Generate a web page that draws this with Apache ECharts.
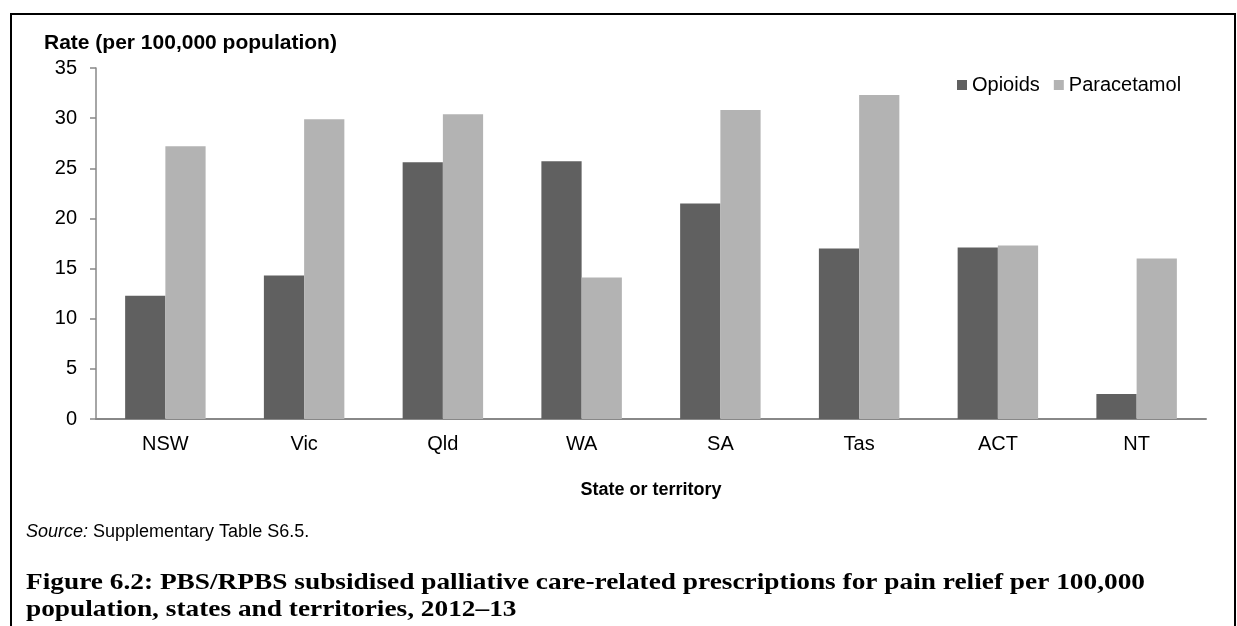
<!DOCTYPE html>
<html>
<head>
<meta charset="utf-8">
<title>Palliative care-related prescriptions for pain relief</title>
<script src="https://cdn.jsdelivr.net/npm/echarts@6/dist/echarts.min.js"></script>
<style>
  html, body { margin: 0; padding: 0; background: #ffffff; }
  #chart { width: 1237px; height: 626px; }
</style>
</head>
<body>
<div id="chart"></div>
<script>
// States and territories along the category axis
const categories = ['NSW', 'Vic', 'Qld', 'WA', 'SA', 'Tas', 'ACT', 'NT'];
// Rate per 100,000 population, 2012–13
const opioids = [12.3, 14.3, 25.6, 25.7, 21.5, 17.0, 17.1, 2.5];
const paracetamol = [27.2, 29.9, 30.4, 14.1, 30.8, 32.3, 17.3, 16.0];
// Value axis range and step
const yMin = 0;
const yMax = 35;
const yStep = 5;

const captionLine1 = 'Figure 6.2: PBS/RPBS subsidised palliative care-related prescriptions for pain relief per 100,000';
const captionLine2 = 'population, states and territories, 2012–13';

const SANS = "'Liberation Sans', Arial, Helvetica, sans-serif";
const SERIF = "'Liberation Serif', 'Times New Roman', serif";
const AXIS_GREY = '#888888';

// caption set in a bold serif, widened so the first line spans the caption block
const CAPTION_WIDTH = 1119;
const CAPTION_SIZE = 23.5;
const captionFont = 'bold ' + CAPTION_SIZE + 'px ' + SERIF;
const measureCtx = document.createElement('canvas').getContext('2d');
measureCtx.font = captionFont;
const captionStretch = Math.min(1.3, CAPTION_WIDTH / measureCtx.measureText(captionLine1).width);

const chart = echarts.init(document.getElementById('chart'), null, { renderer: 'canvas' });

chart.setOption({
  animation: false,
  backgroundColor: '#ffffff',
  textStyle: { fontFamily: SANS, color: '#000000' },
  grid: { left: 96, right: 31, top: 68, bottom: 207, containLabel: false },
  legend: {
    data: ['Opioids', 'Paracetamol'],
    left: 957,
    top: 75,
    icon: 'rect',
    itemWidth: 10,
    itemHeight: 10,
    itemGap: 14,
    padding: 0,
    selectedMode: false,
    textStyle: { fontFamily: SANS, fontSize: 20, color: '#000000' }
  },
  xAxis: {
    type: 'category',
    data: categories,
    name: 'State or territory',
    nameLocation: 'middle',
    nameGap: 62,
    nameTextStyle: { fontFamily: SANS, fontSize: 18, fontWeight: 'bold', color: '#000000' },
    axisLine: { show: true, lineStyle: { color: AXIS_GREY, width: 2 } },
    axisTick: { show: false },
    axisLabel: { fontFamily: SANS, fontSize: 20, color: '#000000', margin: 15 },
    splitLine: { show: false }
  },
  yAxis: {
    type: 'value',
    min: yMin,
    max: yMax,
    interval: yStep,
    axisLine: { show: true, lineStyle: { color: AXIS_GREY, width: 1.5 } },
    axisTick: { show: true, inside: false, length: 6, lineStyle: { color: AXIS_GREY, width: 1.5 } },
    axisLabel: { fontFamily: SANS, fontSize: 20, color: '#000000', margin: 19 },
    splitLine: { show: false }
  },
  series: [
    {
      name: 'Opioids',
      type: 'bar',
      data: opioids,
      barGap: '0%',
      barCategoryGap: '42%',
      itemStyle: { color: '#606060' }
    },
    {
      name: 'Paracetamol',
      type: 'bar',
      data: paracetamol,
      barGap: '0%',
      barCategoryGap: '42%',
      itemStyle: { color: '#b3b3b3' }
    }
  ],
  graphic: [
    {
      // frame around the figure
      type: 'polyline',
      silent: true,
      shape: { points: [[11, 640], [11, 14], [1235, 14], [1235, 640]] },
      style: { stroke: '#000000', lineWidth: 2, fill: null }
    },
    {
      type: 'text',
      left: 44,
      top: 33,
      silent: true,
      style: {
        text: 'Rate (per 100,000 population)',
        font: 'bold 21px ' + SANS,
        fill: '#000000'
      }
    },
    {
      type: 'text',
      left: 26,
      top: 523,
      silent: true,
      style: {
        text: '{i|Source:} Supplementary Table S6.5.',
        font: '18px ' + SANS,
        fill: '#000000',
        rich: {
          i: { fontStyle: 'italic', fontSize: 18, fontFamily: SANS }
        }
      }
    },
    {
      type: 'text',
      x: 26,
      y: 571,
      scaleX: captionStretch,
      silent: true,
      style: {
        text: captionLine1,
        font: captionFont,
        fill: '#000000'
      }
    },
    {
      type: 'text',
      x: 26,
      y: 598,
      scaleX: captionStretch,
      silent: true,
      style: {
        text: captionLine2,
        font: captionFont,
        fill: '#000000'
      }
    }
  ]
});
</script>
</body>
</html>
